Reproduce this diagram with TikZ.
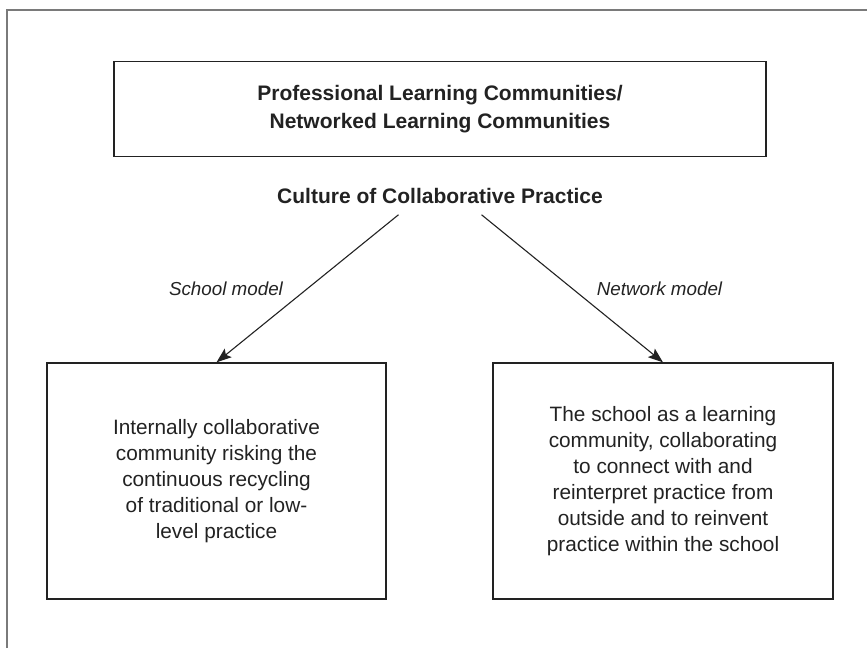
\documentclass[tikz,border=0pt]{standalone}
\usepackage{fontspec}
\setmainfont{Liberation Sans}
\usetikzlibrary{positioning,arrows.meta,calc}
\definecolor{inkgrey}{HTML}{222222}
\definecolor{framegrey}{HTML}{7A7A7A}

\newcommand{\bodysize}{\fontsize{20.8}{26}\selectfont}

\tikzset{
  box/.style={draw=inkgrey, line width=1.3pt, inner sep=0pt, align=center, text=inkgrey,
    font=\bodysize},
  modelarrow/.style={draw=inkgrey, line width=1.1pt, -{Stealth[length=15pt,width=11pt,inset=3pt]}},
  model/.style={font=\fontsize{18.8}{24}\selectfont\itshape, text=inkgrey, inner sep=0pt},
}

\begin{document}
\begin{tikzpicture}[x=1pt, y=-1pt]
  \useasboundingbox (0,0) rectangle (867,648);
  % frame, only top and left edge are on the page
  \draw[framegrey, line width=1.5pt] (7,648) -- (7,10) -- (867,10);

  \node[box, minimum width=652pt, minimum height=95pt,
        font=\bfseries\fontsize{21}{27.3}\selectfont] (plc) at (440,109.2)
    {Professional Learning Communities/\\Networked Learning Communities};
  \node[font=\bfseries\fontsize{21}{26}\selectfont, text=inkgrey, anchor=base] (culture) at (440,203)
    {Culture of Collaborative Practice};

  \node[box, minimum width=339pt, minimum height=236pt] (school) at (216.5,481)
    {Internally collaborative\\community risking the\\continuous recycling\\of traditional or low-\\level practice};
  \node[box, minimum width=340pt, minimum height=236pt] (network) at (663,481)
    {The school as a learning\\community, collaborating\\to connect with and\\reinterpret practice from\\outside and to reinvent\\practice within the school};

  \draw[modelarrow] (culture.south) ++(-41.5,8) -- node[model, left=24pt] {School model} (school.north);
  \draw[modelarrow] (culture.south) ++(41.5,8) -- node[model, right=24pt] {Network model} (network.north);
\end{tikzpicture}
\end{document}
